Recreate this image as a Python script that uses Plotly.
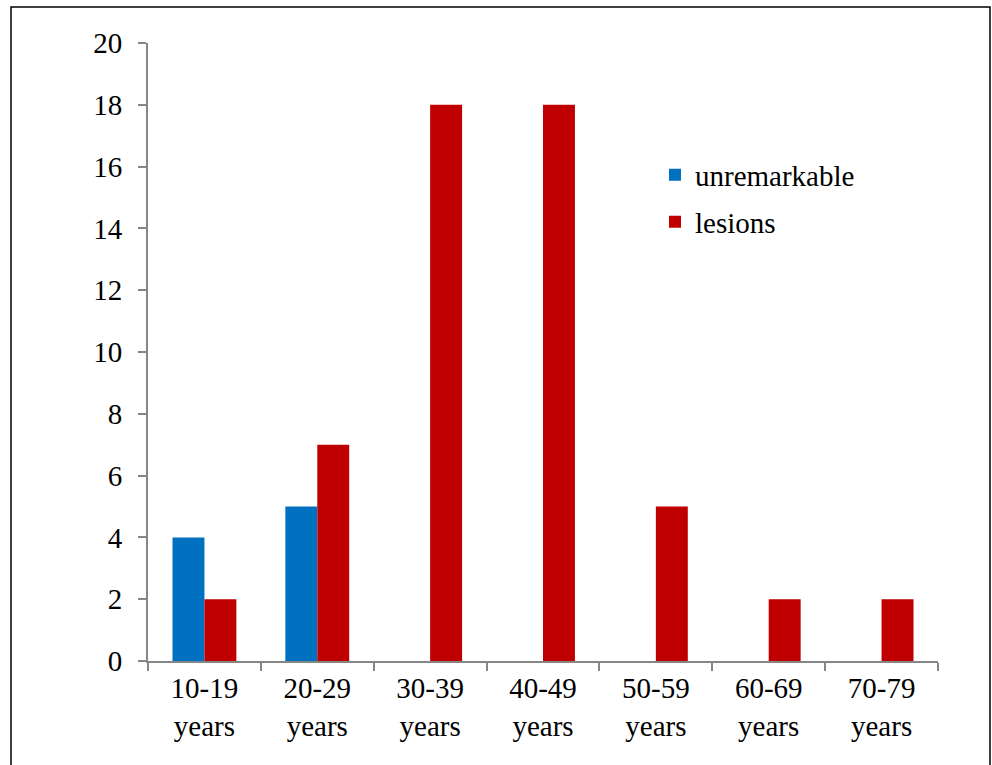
import plotly.graph_objects as go

categories = ["10-19<br>years", "20-29<br>years", "30-39<br>years", "40-49<br>years",
              "50-59<br>years", "60-69<br>years", "70-79<br>years"]
unremarkable = [4, 5, None, None, None, None, None]
lesions = [2, 7, 18, 18, 5, 2, 2]
y_ticks = [0, 2, 4, 6, 8, 10, 12, 14, 16, 18, 20]

FONT = "Liberation Serif"
FS = 29
AXIS = "#868686"

fig = go.Figure()
fig.add_trace(go.Bar(x=categories, y=unremarkable, name="unremarkable",
                     marker=dict(color="#0070C0", line=dict(width=0)), legend="legend"))
fig.add_trace(go.Bar(x=categories, y=lesions, name="lesions",
                     marker=dict(color="#C00000", line=dict(width=0)), legend="legend2"))

L, R, T, B = 148, 54, 43, 104
W, H = 992, 765
pw, ph = W - L - R, H - T - B

def px(x):
    return (x - L) / pw

def py(y):
    return (H - B - y) / ph

fig.update_layout(
    width=W, height=H,
    margin=dict(l=L, r=R, t=T, b=B, pad=0),
    paper_bgcolor="white", plot_bgcolor="white",
    font=dict(family=FONT, size=FS, color="black"),
    barmode="group", bargap=0.434, bargroupgap=0,
    showlegend=True,
    legend=dict(x=px(655), y=py(175), xanchor="left", yanchor="middle",
                font=dict(family=FONT, size=FS), bgcolor="rgba(0,0,0,0)"),
    legend2=dict(x=px(655), y=py(222), xanchor="left", yanchor="middle",
                 font=dict(family=FONT, size=FS), bgcolor="rgba(0,0,0,0)"),
    xaxis=dict(type="category", showline=True, linecolor=AXIS, linewidth=2,
               ticks="outside", tickson="boundaries", ticklen=8, tickwidth=2,
               tickcolor=AXIS, showgrid=False, zeroline=False,
               tickfont=dict(family=FONT, size=FS)),
    yaxis=dict(range=[0, 20], tickvals=y_ticks, showline=True, linecolor=AXIS,
               linewidth=2, ticks="outside", ticklen=8, tickwidth=2, tickcolor=AXIS,
               showgrid=False, zeroline=False, ticklabelstandoff=10,
               tickfont=dict(family=FONT, size=FS)),
    shapes=[dict(type="rect", xref="paper", yref="paper",
                 x0=px(11), x1=px(990), y0=py(775), y1=py(7),
                 line=dict(color="black", width=1.5), fillcolor="rgba(0,0,0,0)",
                 layer="below")],
)

fig.write_html("out.html")
